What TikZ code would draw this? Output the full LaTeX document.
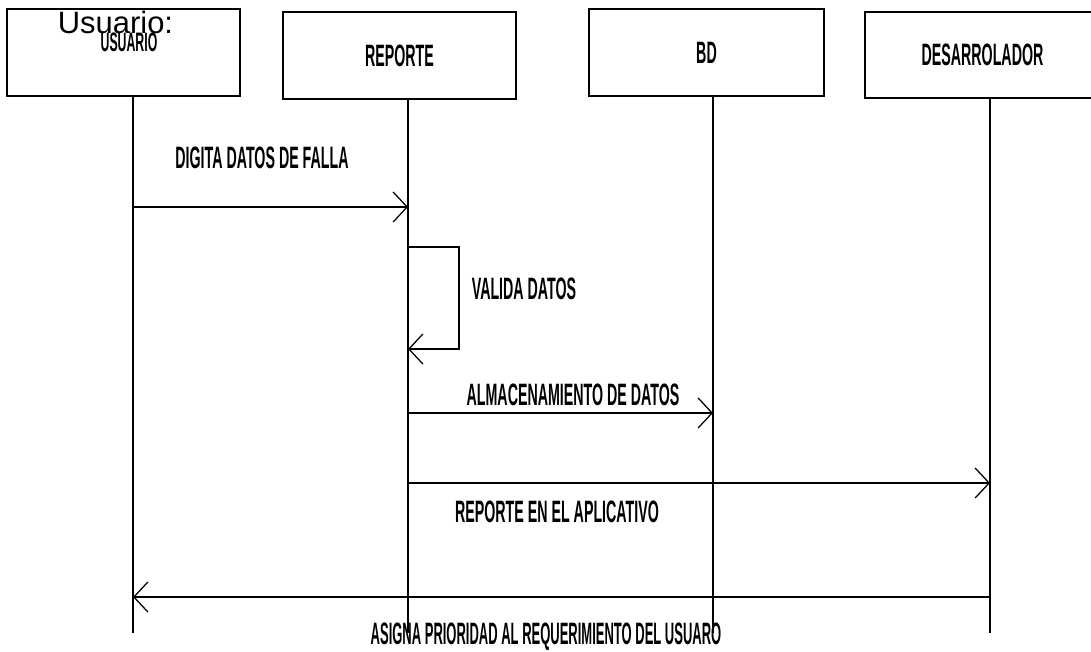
\documentclass[tikz,border=0pt]{standalone}
\usepackage{fontspec}
\setmainfont{Liberation Sans}
\usepackage{graphicx}
\usetikzlibrary{arrows.meta}

\newcommand{\narrowtxt}[1]{\scalebox{0.46}[1]{\bfseries #1}}

\begin{document}
\begin{tikzpicture}[
  x=0.025cm, y=-0.025cm,
  objbox/.style   = {draw=black, line width=1.5pt, fill=white, inner sep=0pt,
                     font=\fontsize{22}{26}\selectfont},
  lifeline/.style = {line width=1.2pt},
  msg/.style      = {line width=1.4pt,
                     -{Straight Barb[length=0.35cm, width=0.75cm, line width=0.9pt]}},
  msglbl/.style   = {font=\fontsize{22}{26}\selectfont, inner sep=0pt},
]
\useasboundingbox (0,0) rectangle (1091,651);

%% ── Objects ─────────────────────────────────────────────────────────────────
\node[objbox, minimum width=5.825cm, minimum height=2.175cm] (usuario) at (123.5,52.5) {};
\node[msglbl, font=\fontsize{19}{22}\selectfont] (usuarioTxt) at (129,42) {\narrowtxt{USUARIO}};
\node[anchor=base, inner sep=0pt, font=\fontsize{22}{26}\selectfont] (usuarioTag) at (115.5,33) {Usuario:};

\node[objbox, minimum width=5.825cm, minimum height=2.175cm] (reporte) at (399.5,55.5) {\narrowtxt{REPORTE}};
\node[objbox, minimum width=5.875cm, minimum height=2.175cm] (bd) at (706.5,52.5) {\narrowtxt{BD}};
\node[objbox, minimum width=5.875cm, minimum height=2.15cm] (desarrolador) at (982.5,55) {\narrowtxt{DESARROLADOR}};

%% ── Lifelines ───────────────────────────────────────────────────────────────
\coordinate (uTop) at (133,96);  \coordinate (uEnd) at (133,633);
\coordinate (rTop) at (408,99);  \coordinate (rEnd) at (408,633);
\coordinate (bTop) at (713,96);  \coordinate (bEnd) at (713,633);
\coordinate (dTop) at (990,98);  \coordinate (dEnd) at (990,633);

\draw[lifeline] (uTop) -- (uEnd);
\draw[lifeline] (rTop) -- (rEnd);
\draw[lifeline] (bTop) -- (bEnd);
\draw[lifeline] (dTop) -- (dEnd);

%% ── Messages ────────────────────────────────────────────────────────────────
\coordinate (m1) at (0,207);
\coordinate (loopA) at (459,247);
\coordinate (loopB) at (459,349);
\coordinate (m3) at (0,413);
\coordinate (m4) at (0,483);
\coordinate (m5) at (0,597);

\draw[msg] (uTop |- m1) -- (rTop |- m1);
\node[msglbl] (digita) at (262,158) {\narrowtxt{DIGITA DATOS DE FALLA}};

\draw[msg] (rTop |- loopA) -- (loopA) -- (loopB) -- (rTop |- loopB);
\node[msglbl] (valida) at (524,289) {\narrowtxt{VALIDA DATOS}};

\draw[msg] (rTop |- m3) -- (bTop |- m3);
\node[msglbl] (almacena) at (573,395) {\narrowtxt{ALMACENAMIENTO DE DATOS}};

\draw[msg] (rTop |- m4) -- (dTop |- m4);
\node[msglbl] (aplicativo) at (557,512) {\narrowtxt{REPORTE EN EL APLICATIVO}};

\draw[msg] (dTop |- m5) -- (uTop |- m5);
\node[msglbl] (asigna) at (546,637) {\scalebox{0.42}[1]{\bfseries ASIGNA PRIORIDAD AL REQUERIMIENTO DEL USUARO}};

\end{tikzpicture}
\end{document}
